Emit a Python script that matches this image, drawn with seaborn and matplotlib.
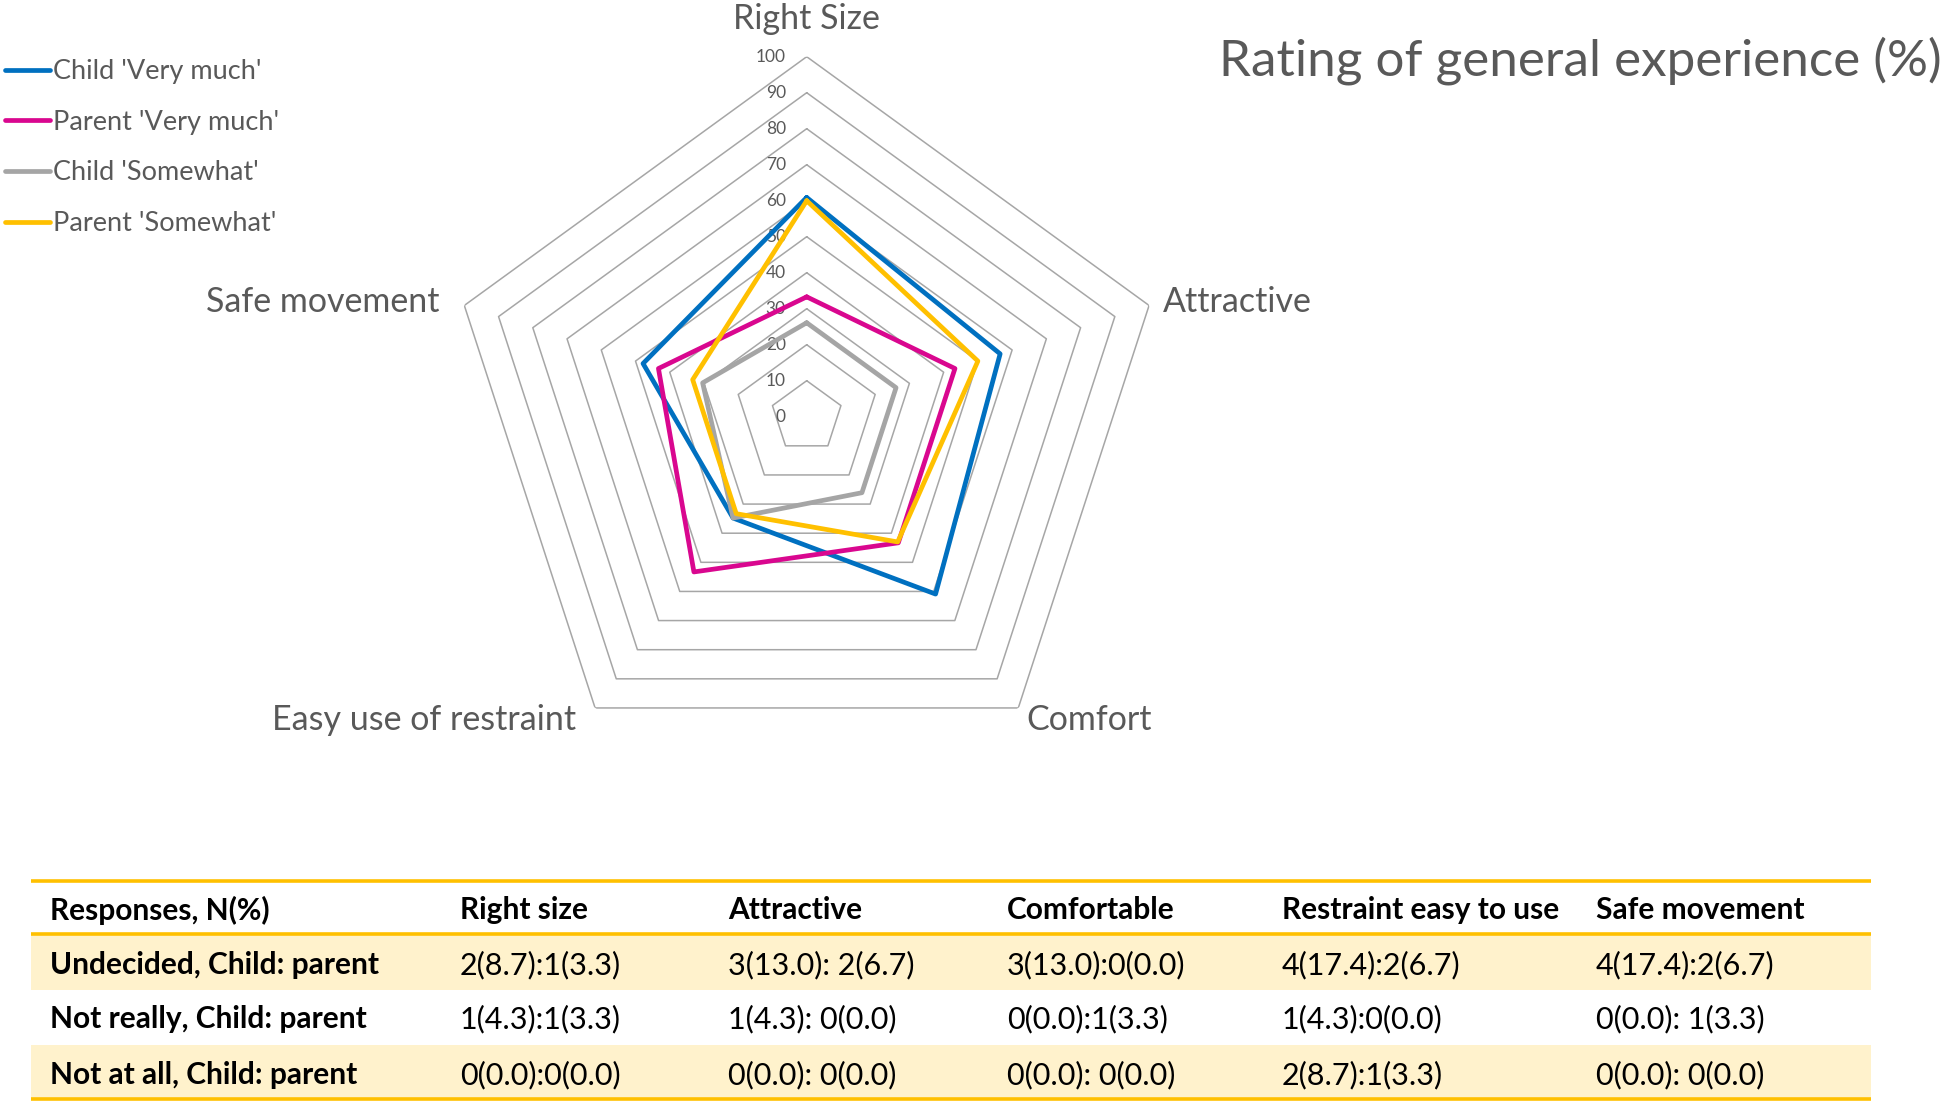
import numpy as np
import pandas as pd
import matplotlib
matplotlib.use("Agg")
import matplotlib.pyplot as plt
import seaborn as sns

# ---------------- data ----------------
categories = ["Right Size", "Attractive", "Comfort", "Easy use of restraint", "Safe movement"]
series_names = ["Child 'Very much'", "Parent 'Very much'", "Child 'Somewhat'", "Parent 'Somewhat'"]
child_very_much = [60.9, 56.5, 60.9, 34.8, 47.8]
parent_very_much = [33.3, 43.3, 43.3, 53.3, 43.3]
child_somewhat = [26.1, 26.1, 26.1, 34.8, 30.4]
parent_somewhat = [60.0, 50.0, 43.0, 33.3, 33.3]
series_colors = ["#0070C0", "#D9078F", "#A5A5A5", "#FFC000"]
radial_ticks = [0, 10, 20, 30, 40, 50, 60, 70, 80, 90, 100]

title_text = "Rating of general experience (%)"
table_header = ["Responses, N(%)", "Right size", "Attractive", "Comfortable",
                "Restraint easy to use", "Safe movement"]
table_row_labels = ["Undecided, Child: parent", "Not really, Child: parent", "Not at all, Child: parent"]
table_undecided = ["2(8.7):1(3.3)", "3(13.0): 2(6.7)", "3(13.0):0(0.0)", "4(17.4):2(6.7)", "4(17.4):2(6.7)"]
table_not_really = ["1(4.3):1(3.3)", "1(4.3): 0(0.0)", "0(0.0):1(3.3)", "1(4.3):0(0.0)", "0(0.0): 1(3.3)"]
table_not_at_all = ["0(0.0):0(0.0)", "0(0.0): 0(0.0)", "0(0.0): 0(0.0)", "2(8.7):1(3.3)", "0(0.0): 0(0.0)"]

# ---------------- style ----------------
sns.set_theme(style="white")
plt.rcParams["font.family"] = ["Lato", "DejaVu Sans"]
TXT = "#595959"

W, H = 1946, 1107
fig = plt.figure(figsize=(W / 100, H / 100), dpi=100)
fig.patch.set_facecolor("white")


def fx(px):
    return px / W


def fy(py):
    return 1 - py / H


# ---------------- radar ----------------
cx, cy, R = 806.7, 416.7, 360.0
ax = fig.add_axes([fx(cx - R), fy(cy + R), 2 * R / W, 2 * R / H], projection="polar")
ax.set_theta_offset(np.pi / 2)
ax.set_theta_direction(-1)
n = len(categories)
angles = np.arange(n) * 2 * np.pi / n
closed_angles = np.append(angles, 2 * np.pi)

# pentagon gridlines
for lvl in radial_ticks[1:]:
    ax.plot(closed_angles, [lvl] * (n + 1), color="#A6A6A6", lw=1.1, zorder=1)

values = [child_very_much, parent_very_much, child_somewhat, parent_somewhat]
recs = []
for name, vals in zip(series_names, values):
    for i in range(n + 1):
        recs.append({"series": name, "theta": closed_angles[i], "value": vals[i % n], "order": i})
df = pd.DataFrame(recs)

sns.lineplot(data=df, x="theta", y="value", hue="series", hue_order=series_names,
             palette=series_colors, sort=False, estimator=None, linewidth=3.4,
             ax=ax, zorder=3)

ax.set_ylim(0, 100)
ax.set_xticks([])
ax.set_yticks([])
ax.set_xlabel("")
ax.set_ylabel("")
ax.grid(False)
ax.spines["polar"].set_visible(False)
ax.set_facecolor("none")

for t in radial_ticks:
    ax.annotate(str(t), xy=(0, t), xytext=(-15, 0), textcoords="offset points",
                ha="right", va="center", fontsize=12.5, color=TXT, zorder=2)

# legend
sns.move_legend(ax, "upper left", bbox_to_anchor=(fx(5), fy(59)), bbox_transform=fig.transFigure,
                frameon=False, title=None, fontsize=19.5, handlelength=1.65, handletextpad=0.12,
                labelspacing=0.95, borderaxespad=0, borderpad=0, labelcolor=TXT)
for line in ax.get_legend().get_lines():
    line.set_linewidth(3.4)

# category labels
lab_fs = 24.5
fig.text(fx(806), fy(19), categories[0], ha="center", va="center", fontsize=lab_fs, color=TXT)
fig.text(fx(1163), fy(302), categories[1], ha="left", va="center", fontsize=lab_fs, color=TXT)
fig.text(fx(1026), fy(720), categories[2], ha="left", va="center", fontsize=lab_fs, color=TXT)
fig.text(fx(576), fy(720), categories[3], ha="right", va="center", fontsize=lab_fs, color=TXT)
fig.text(fx(440), fy(302), categories[4], ha="right", va="center", fontsize=lab_fs, color=TXT)

# title
fig.text(fx(1942), fy(61), title_text, ha="right", va="center", fontsize=36.8, color=TXT)

# ---------------- table ----------------
tx0, tx1, ty0, ty1 = 31, 1871, 878, 1102
tax = fig.add_axes([fx(tx0), fy(ty1), (tx1 - tx0) / W, (ty1 - ty0) / H])
tax.set_xlim(tx0, tx1)
tax.set_ylim(ty1, ty0)
tax.axis("off")

band = "#FFF2CC"
gold = "#FFC000"
row_bounds = [(934, 990), (990, 1045), (1045, 1099)]
for i, (a, b) in enumerate(row_bounds):
    if i % 2 == 0:
        tax.axhspan(a, b, color=band, lw=0, zorder=0)
for yl in [881, 934, 1099]:
    tax.axhline(yl, color=gold, lw=2.6, zorder=2)

col_x = [50, 460, 728, 1007, 1282, 1596]
tfs_b = 21.5
tfs_r = 22
header_y = 910
for x, txt in zip(col_x, table_header):
    tax.text(x, header_y, txt, ha="left", va="center", fontsize=tfs_b, fontweight="bold", color="black")
row_y = [965, 1019, 1075]
for lab, cells, y in zip(table_row_labels, [table_undecided, table_not_really, table_not_at_all], row_y):
    tax.text(col_x[0], y, lab, ha="left", va="center", fontsize=tfs_b, fontweight="bold", color="black")
    for x, c in zip(col_x[1:], cells):
        tax.text(x, y, c, ha="left", va="center", fontsize=tfs_r, color="black")

fig.savefig("out.png", dpi=100, facecolor="white")
